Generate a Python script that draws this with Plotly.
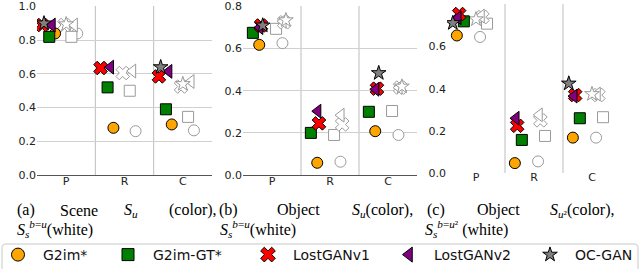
import plotly.graph_objects as go

# ---------------- data ----------------
categories = ["P", "R", "C"]
methods = ["G2im*", "G2im-GT*", "LostGANv1", "LostGANv2", "OC-GAN"]
ytick_vals = [0.0, 0.2, 0.4, 0.6, 0.8, 1.0]

# (a) Scene
scene_color = {
    "G2im*":     [0.84, 0.28, 0.30],
    "G2im-GT*":  [0.82, 0.52, 0.39],
    "LostGANv1": [0.89, 0.635, 0.585],
    "LostGANv2": [0.89, 0.64, 0.615],
    "OC-GAN":    [0.90, None, 0.64],
}
scene_white = {
    "G2im*":     [0.84, 0.26, 0.265],
    "G2im-GT*":  [0.82, 0.50, 0.345],
    "LostGANv1": [0.89, 0.605, 0.525],
    "LostGANv2": [0.89, 0.617, 0.555],
    "OC-GAN":    [0.895, None, 0.54],
}
# (b) Object
object_color = {
    "G2im*":     [0.618, 0.058, 0.208],
    "G2im-GT*":  [0.675, 0.20, 0.30],
    "LostGANv1": [0.71, 0.245, 0.41],
    "LostGANv2": [0.70, 0.303, 0.407],
    "OC-GAN":    [0.71, None, 0.484],
}
object_white = {
    "G2im*":     [0.626, 0.063, 0.19],
    "G2im-GT*":  [0.694, 0.19, 0.304],
    "LostGANv1": [0.725, 0.240, 0.415],
    "LostGANv2": [0.73, 0.284, 0.415],
    "OC-GAN":    [0.735, None, 0.42],
}
# (c) Object u^2
object2_color = {
    "G2im*":     [0.653, 0.047, 0.168],
    "G2im-GT*":  [0.72, 0.157, 0.26],
    "LostGANv1": [0.755, 0.224, 0.37],
    "LostGANv2": [0.737, 0.26, 0.365],
    "OC-GAN":    [0.712, None, 0.425],
}
object2_white = {
    "G2im*":     [0.646, 0.055, 0.168],
    "G2im-GT*":  [0.709, 0.176, 0.265],
    "LostGANv1": [0.74, 0.25, 0.37],
    "LostGANv2": [0.745, 0.276, 0.375],
    "OC-GAN":    [0.73, None, 0.375],
}

# ---------------- styles ----------------
W, H = 640, 269
symbols = {"G2im*": "circle", "G2im-GT*": "square", "LostGANv1": "x",
           "LostGANv2": "triangle-left", "OC-GAN": "star"}
colors = {"G2im*": "#FFA500", "G2im-GT*": "#008000", "LostGANv1": "#FF0000",
          "LostGANv2": "#800080", "OC-GAN": "#7f7f7f"}
sizes = {"G2im*": 11, "G2im-GT*": 11, "LostGANv1": 12,
         "LostGANv2": 12, "OC-GAN": 11}
legend_sizes = {"G2im*": 13, "G2im-GT*": 12, "LostGANv1": 13,
                "LostGANv2": 13, "OC-GAN": 11}
# horizontal jitter within each category (category units)
offsets = [
    {"G2im*": -0.19, "G2im-GT*": -0.29, "LostGANv1": -0.41, "LostGANv2": -0.24, "OC-GAN": -0.38},
    {"G2im*": -0.22, "G2im-GT*": -0.33, "LostGANv1": -0.19, "LostGANv2": -0.21, "OC-GAN": -0.16},
    {"G2im*": -0.33, "G2im-GT*": -0.21, "LostGANv1": -0.29, "LostGANv2": -0.31, "OC-GAN": -0.40},
]
white_shift = [0.38, 0.40, 0.40]

panels = [
    (scene_color, scene_white, 1.0, (37, 212), (6, 175), True),
    (object_color, object_white, 0.8, (243, 417), (6, 175), True),
    (object2_color, object2_white, 0.8, (447, 621), (4, 173), False),
]

fig = go.Figure()
xpos = list(range(len(categories)))

for p, (cvals, wvals, ymax, (x0, x1), (ytop, ybot), grid) in enumerate(panels):
    sfx = "" if p == 0 else str(p + 1)
    for m in methods:
        fig.add_trace(go.Scatter(
            x=[i + offsets[p][m] + white_shift[p] for i in xpos], y=wvals[m],
            mode="markers", showlegend=False, xaxis="x" + sfx, yaxis="y" + sfx,
            marker=dict(symbol=symbols[m], size=sizes[m], color="white",
                        line=dict(color="#9a9a9a", width=1)),
            hoverinfo="skip"))
    for m in methods:
        fig.add_trace(go.Scatter(
            x=[i + offsets[p][m] for i in xpos], y=cvals[m],
            mode="markers", showlegend=False, xaxis="x" + sfx, yaxis="y" + sfx,
            marker=dict(symbol=symbols[m], size=sizes[m], color=colors[m],
                        line=dict(color="black", width=1)),
            hoverinfo="skip"))
    tv = [v for v in ytick_vals if v <= ymax + 1e-9]
    fig.update_layout(**{
        "xaxis" + sfx: dict(domain=[x0 / W, x1 / W], range=[-0.5, 2.5],
                            tickvals=xpos, ticktext=categories, showgrid=False,
                            zeroline=False, showline=grid, linecolor="#555555",
                            linewidth=1, ticks="", anchor="y" + sfx,
                            ticklabelstandoff=-4, automargin=False, fixedrange=True,
                            tickfont=dict(family="DejaVu Sans", size=11, color="#222")),
        "yaxis" + sfx: dict(domain=[1 - ybot / H, 1 - ytop / H], range=[0, ymax * 1.003],
                            tickvals=tv, ticktext=["%.1f" % v for v in tv], showgrid=grid,
                            gridcolor="#d0d0d0", zeroline=False, ticks="",
                            anchor="x" + sfx, showline=False, automargin=False,
                            fixedrange=True,
                            tickfont=dict(family="DejaVu Sans", size=11, color="#222")),
    })
    for xv in (0.5, 1.5):
        fig.add_shape(type="line", xref="x" + sfx, yref="y" + sfx + " domain",
                      x0=xv, x1=xv, y0=0, y1=1, layer="below",
                      line=dict(color="#bdbdbd", width=1))

# ---------------- legend ----------------
legend_px = [8, 118, 258, 399, 540]
for k, m in enumerate(methods):
    lname = "legend" if k == 0 else "legend%d" % (k + 1)
    fig.add_trace(go.Scatter(
        x=[None], y=[None], mode="markers", name=m, legend=lname,
        marker=dict(symbol=symbols[m], size=legend_sizes[m], color=colors[m],
                    line=dict(color="black", width=1))))
    fig.update_layout(**{lname: dict(
        x=legend_px[k] / W, y=1 - 255 / H, xanchor="left", yanchor="middle",
        bgcolor="rgba(0,0,0,0)", borderwidth=0, itemsizing="trace", itemwidth=40,
        indentation=-15,
        font=dict(family="DejaVu Sans", size=14, color="#111"))})

fig.add_shape(type="path", xref="paper", yref="paper", layer="below",
              path="M %f,%f L %f,%f Q %f,%f %f,%f L %f,%f Q %f,%f %f,%f L %f,%f" % (
                  2 / W, -0.05, 2 / W, 1 - 248 / H, 2 / W, 1 - 244 / H, 6 / W, 1 - 244 / H,
                  634 / W, 1 - 244 / H, 638 / W, 1 - 244 / H, 638 / W, 1 - 248 / H,
                  638 / W, -0.05),
              line=dict(color="#c8c8c8", width=1))

# ---------------- captions ----------------
S = "<i>S</i>"
captions = [
    ("(a)", 15, 210), ("Scene", 58, 210), (S + "<sub><i>u</i></sub>", 122, 210), ("(color),", 167, 210),
    (S + "<sub><i>s</i></sub><sup><i>b</i>=<i>u</i></sup>(white)", 15, 229),
    ("(b)", 217, 210), ("Object", 275, 210), (S + "<sub><i>u</i></sub>(color),", 350, 210),
    (S + "<sub><i>s</i></sub><sup><i>b</i>=<i>u</i></sup>(white)", 218, 229),
    ("(c)", 425, 210), ("Object", 475, 210), (S + "<sub><i>u</i>²</sub>(color),", 548, 210),
    (S + "<sub><i>s</i></sub><sup><i>b</i>=<i>u</i>²</sup> (white)", 423, 229),
]
for txt, xp, yp in captions:
    fig.add_annotation(text=txt, x=xp / W, y=1 - yp / H, xref="paper", yref="paper",
                       xanchor="left", yanchor="middle", showarrow=False,
                       font=dict(family="Liberation Serif", size=16, color="#000"))

fig.update_layout(width=W, height=H, hovermode=False,
                  margin=dict(l=0, r=0, t=0, b=0, pad=0, autoexpand=False),
                  paper_bgcolor="white", plot_bgcolor="white")
fig.write_html("out.html", config={"displayModeBar": False, "staticPlot": False},
               post_script="document.body.style.margin='0';"
                           "document.body.style.overflow='hidden';")
